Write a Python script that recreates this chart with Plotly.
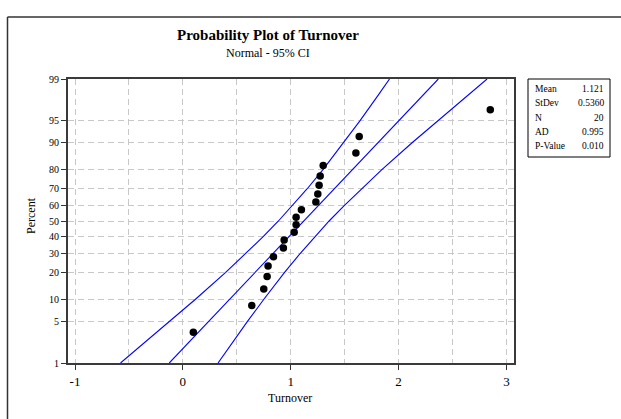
from statistics import NormalDist
import plotly.graph_objects as go

# ---------------- data ----------------
turnover = [0.097, 0.639, 0.750, 0.781, 0.790, 0.840, 0.932, 0.939, 1.032, 1.050,
            1.050, 1.099, 1.233, 1.251, 1.263, 1.273, 1.301, 1.604, 1.635, 2.850]
point_percent = [3.43, 8.33, 13.24, 18.14, 23.04, 27.94, 32.84, 37.75, 42.65, 47.55,
                 52.45, 57.35, 62.25, 67.16, 72.06, 76.96, 81.86, 86.76, 91.67, 96.57]

band_percent = [1, 2, 5, 10, 20, 30, 40, 50, 60, 70, 80, 90, 95, 98, 99]
ci_left = [-0.578, -0.394, -0.121, 0.117, 0.397, 0.589, 0.747, 0.886, 1.018, 1.151,
           1.299, 1.491, 1.643, 1.808, 1.916]
ci_right = [0.326, 0.434, 0.599, 0.751, 0.943, 1.091, 1.224, 1.356, 1.496, 1.653,
            1.845, 2.125, 2.363, 2.636, 2.820]
fit_percent = [1, 99]
fit_x = [-0.126, 2.368]

y_ticks = [1, 5, 10, 20, 30, 40, 50, 60, 70, 80, 90, 95, 99]
x_ticks = [-1, 0, 1, 2, 3]

stat_names = ["Mean", "StDev", "N", "AD", "P-Value"]
stat_values = ["1.121", "0.5360", "20", "0.995", "0.010"]

# ---------------- probability scale ----------------
nd = NormalDist()
def pz(p):
    return nd.inv_cdf(p / 100.0)

W, H = 621, 419
L, R, T, B = 68, 514, 79, 363
def px(x):
    return (x - L) / (R - L)
def py(y):
    return (B - y) / (B - T)

FONT = "Liberation Serif, Times New Roman, serif"
BLUE = "#0000ff"

fig = go.Figure()
for xs in (ci_left, ci_right):
    fig.add_trace(go.Scatter(x=xs, y=[pz(p) for p in band_percent], mode="lines",
                             line=dict(color=BLUE, width=1.1), hoverinfo="skip"))
fig.add_trace(go.Scatter(x=fit_x, y=[pz(p) for p in fit_percent], mode="lines",
                         line=dict(color=BLUE, width=1.1), hoverinfo="skip"))
fig.add_trace(go.Scatter(x=turnover, y=[pz(p) for p in point_percent], mode="markers",
                         marker=dict(color="black", size=7.5)))

grid = "#c8c8c8"
gdash = "6px,4px"
fig.update_xaxes(range=[-1.065, 3.07], tickvals=x_ticks, ticktext=[str(v) for v in x_ticks],
                 showgrid=True, gridcolor=grid, griddash=gdash, gridwidth=1,
                 minor=dict(dtick=0.5, tick0=0, showgrid=True, gridcolor=grid, griddash=gdash,
                            gridwidth=1, ticks=""),
                 ticks="outside", ticklen=5, tickcolor="#333", tickwidth=1,
                 showline=True, mirror=True, linecolor="#3a3a3a", linewidth=2,
                 zeroline=False, tickfont=dict(family=FONT, size=13, color="black"))
fig.update_yaxes(range=[pz(1), pz(99)], tickvals=[pz(p) for p in y_ticks],
                 ticktext=[str(p) for p in y_ticks],
                 showgrid=True, gridcolor=grid, griddash=gdash, gridwidth=1,
                 ticks="outside", ticklen=5, tickcolor="#333", tickwidth=1,
                 showline=True, mirror=True, linecolor="#3a3a3a", linewidth=2,
                 zeroline=False, tickfont=dict(family=FONT, size=10, color="black"))

ann = [
    dict(text="<b>Probability Plot of Turnover</b>", x=px(268), y=py(35), size=15),
    dict(text="Normal - 95% CI", x=px(268), y=py(53), size=12),
    dict(text="Turnover", x=px(290), y=py(398), size=12),
]
for a in ann:
    fig.add_annotation(text=a["text"], x=a["x"], y=a["y"], xref="paper", yref="paper",
                       showarrow=False, xanchor="center", yanchor="middle",
                       font=dict(family=FONT, size=a["size"], color="black"))
fig.add_annotation(text="Percent", x=px(31), y=py(216), xref="paper", yref="paper",
                   showarrow=False, textangle=-90, xanchor="center", yanchor="middle",
                   font=dict(family=FONT, size=12, color="black"))

# statistics box
fig.add_shape(type="rect", xref="paper", yref="paper", x0=px(528), x1=px(610),
              y0=py(79), y1=py(157), line=dict(color="black", width=1))
for i, (n, v) in enumerate(zip(stat_names, stat_values)):
    yy = py(89 + i * 14.3)
    fig.add_annotation(text=n, x=px(533), y=yy, xref="paper", yref="paper", showarrow=False,
                       xanchor="left", yanchor="middle",
                       font=dict(family=FONT, size=9.5, color="black"))
    fig.add_annotation(text=v, x=px(606), y=yy, xref="paper", yref="paper", showarrow=False,
                       xanchor="right", yanchor="middle",
                       font=dict(family=FONT, size=9.5, color="black"))

# outer graph frame (extends past the window)
fig.add_shape(type="line", xref="paper", yref="paper", x0=px(7.5), x1=px(640),
              y0=py(17), y1=py(17), line=dict(color="#333", width=1.5))
fig.add_shape(type="line", xref="paper", yref="paper", x0=px(7.5), x1=px(7.5),
              y0=py(17), y1=py(430), line=dict(color="#333", width=1.5))

fig.update_layout(width=W, height=H, margin=dict(l=L, r=W - R, t=T, b=H - B),
                  plot_bgcolor="white", paper_bgcolor="white", showlegend=False)

fig.write_html("out.html", config={"displayModeBar": False, "staticPlot": True},
               post_script="document.body.style.margin='0';document.body.style.overflow='hidden';")
